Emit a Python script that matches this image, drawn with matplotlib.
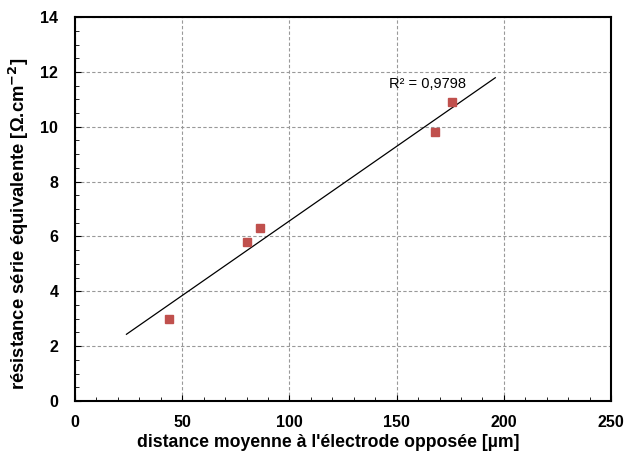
import matplotlib
matplotlib.use('Agg')
import matplotlib.pyplot as plt
from matplotlib.ticker import MultipleLocator
import numpy as np

# measured data
distance = np.array([44, 80, 86.5, 168, 176])        # µm
resistance = np.array([3.0, 5.8, 6.3, 9.8, 10.9])     # Ohm.cm2
fit_range = [24, 196]
r2_label = 'R² = 0,9798'

plt.rcParams['font.family'] = ['Liberation Sans', 'DejaVu Sans']

fig = plt.figure(figsize=(6.27, 4.62), dpi=100)
ax = fig.add_axes([0.1196, 0.132, 0.855, 0.831])

# linear trend line
slope, intercept = np.polyfit(distance, resistance, 1)
xf = np.array(fit_range)
ax.plot(xf, slope * xf + intercept, color='black', linewidth=0.9, zorder=2)

ax.plot(distance, resistance, 's', color='#C0504D', mec='#C0504D',
        markersize=5.8, zorder=3)

ax.text(146.5, 11.3, r2_label, fontsize=10.5, ha='left', va='bottom')

ax.set_xlim(0, 250)
ax.set_ylim(0, 14)
ax.xaxis.set_major_locator(MultipleLocator(50))
ax.xaxis.set_minor_locator(MultipleLocator(10))
ax.yaxis.set_major_locator(MultipleLocator(2))
ax.yaxis.set_minor_locator(MultipleLocator(0.5))
ax.tick_params(which='both', direction='in', top=False, right=False)
ax.tick_params(which='major', length=4, width=0.8, labelsize=11.5)
ax.tick_params(axis='x', which='major', pad=10)
ax.tick_params(axis='y', which='major', pad=12)
ax.tick_params(which='minor', length=3, width=0.6)
for lab in ax.get_xticklabels() + ax.get_yticklabels():
    lab.set_fontweight('bold')

ax.grid(True, which='major', linestyle=(0, (3, 2)), color='#999999',
        linewidth=0.8)
for sp in ax.spines.values():
    sp.set_linewidth(1.5)

ax.set_xlabel("distance moyenne à l'électrode opposée [µm]",
              fontsize=12.7, fontweight='bold', va='center')
ax.set_ylabel('résistance série équivalente [Ω.cm$^{\\mathbf{-2}}$]',
              fontsize=13.3, fontweight='bold', va='center')
ax.xaxis.set_label_coords(0.472, -0.107)
ax.yaxis.set_label_coords(-0.104, 0.462)

fig.savefig('out.png', dpi=100)
